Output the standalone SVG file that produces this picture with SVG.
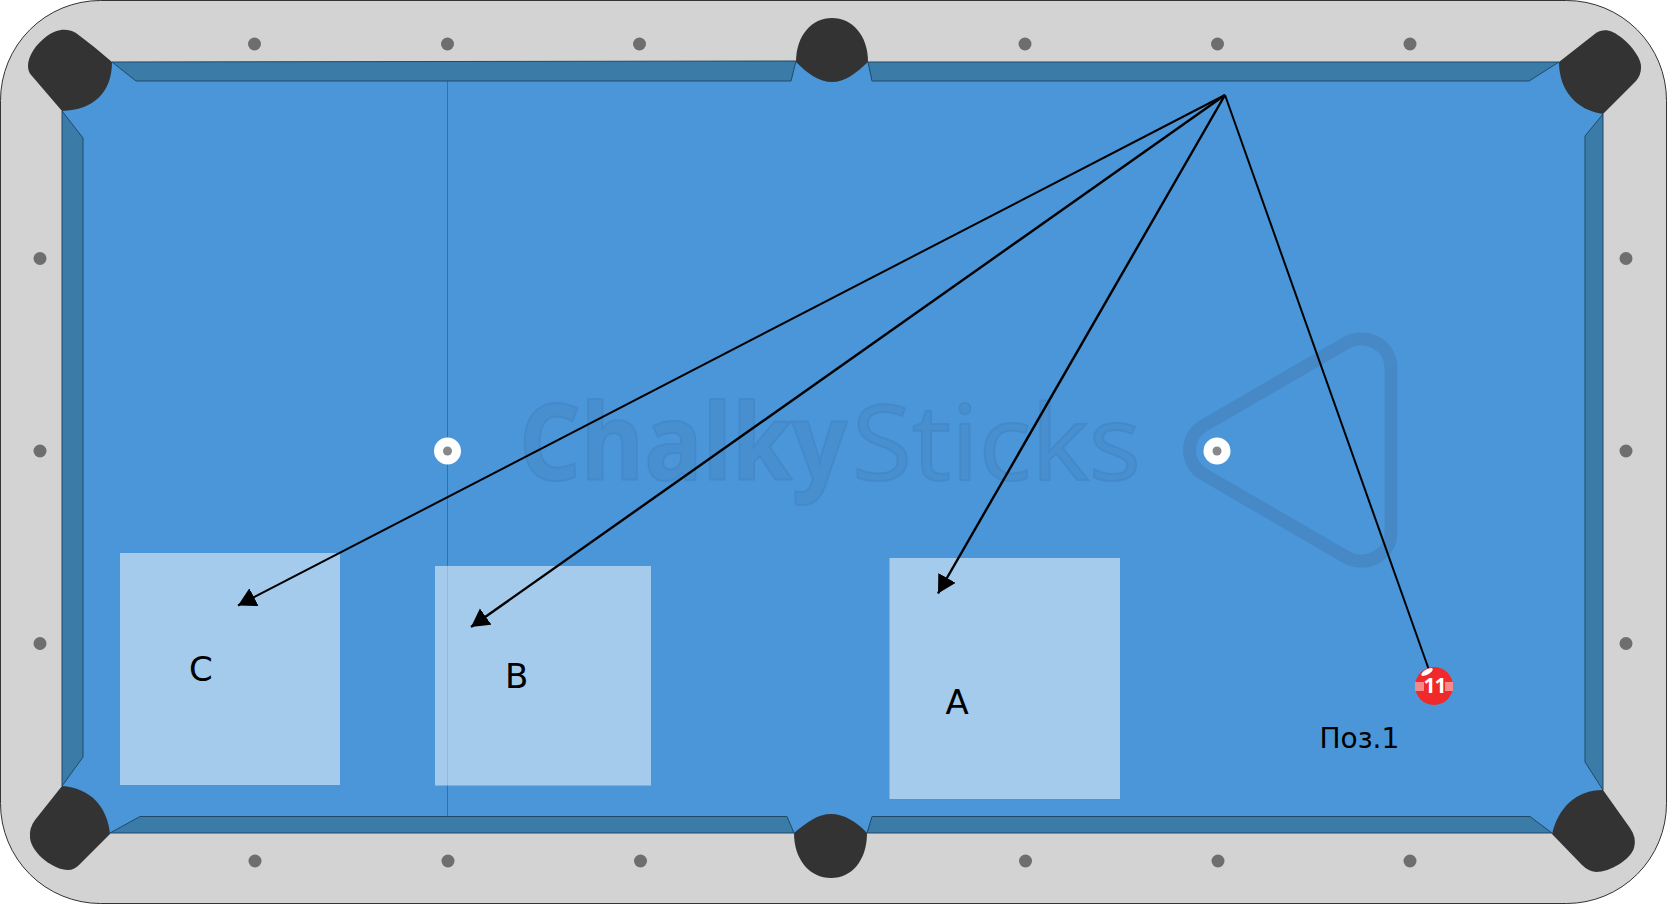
<svg xmlns="http://www.w3.org/2000/svg" width="1676" height="906" viewBox="0 0 1676 906">
<style>
.cushion{fill:#3a7ba8;stroke:#1f4a68;stroke-width:1}
.pocket{fill:#333}
.diamond{fill:#6e6e6e}
.zone{fill:#fff;fill-opacity:.5}
.lbl{font-family:"DejaVu Sans",sans-serif;fill:#000}
.wm{font-family:"Open Sans",sans-serif;font-size:105px;fill:#478fcf;stroke:#448aca;stroke-width:2}
.conn{stroke:#000;stroke-width:2;fill:none}
.thick{stroke-width:2.400}
</style>
<defs>
<marker id="arrow" markerUnits="userSpaceOnUse" markerWidth="20" markerHeight="21" refX="18" refY="10" orient="auto"><path d="M0 0L18 10L0 20Z" fill="#000"/></marker>
</defs>
<rect id="table" x="0.500" y="0.500" width="1666" height="903" rx="100" ry="100" fill="#d3d3d3" stroke="#333" stroke-width="1"/>
<rect id="felt" x="62" y="62" width="1541" height="771" fill="#4a96d8"/>
<g id="watermark">
<text class="wm" x="519" y="480" font-weight="700" textLength="328" lengthAdjust="spacingAndGlyphs">Chalky</text>
<text class="wm" x="852" y="480" textLength="289" lengthAdjust="spacingAndGlyphs">Sticks</text>
<path d="M1391 368V532C1391 556 1365 568 1346 557L1203 474C1185 463 1185 437 1203 426L1346 343C1365 332 1391 344 1391 368Z" fill="none" stroke="#4689c6" stroke-width="13"/>
</g>
<line id="head-string" x1="447.500" y1="81" x2="447.500" y2="816" stroke="#2c5f8a" stroke-opacity=".7" stroke-width="1"/>
<g id="cushions">
<path class="cushion" d="M112 62L136 81H791L796 61Z"/>
<path class="cushion" d="M868 62L872 81H1529L1559 62Z"/>
<path class="cushion" d="M62 111L83 138V757L62 786Z"/>
<path class="cushion" d="M1603 114L1585 136V762L1603 790Z"/>
<path class="cushion" d="M110 833L140 816.500H787L794 833Z"/>
<path class="cushion" d="M867 833L872 816.500H1530L1552 833Z"/>
</g>
<g id="pockets">
<path class="pocket" d="M112 62Q95 47 76 33C66 27 55 30 47 36C36 44 28 56 28 66Q28 72 32 76L62 111C94 110 112 92 112 62Z"/>
<path class="pocket" d="M796 62C796 35 812 18 832 18C852 18 868 35 868 62C855 74 845 82 832 82C819 82 808 74 796 62Z"/>
<path class="pocket" d="M1559 62L1596 33C1604 28 1612 30 1622 38C1633 47 1642 60 1641 68Q1641 75 1636 81L1603 114C1576 110 1559 90 1559 62Z"/>
<path class="pocket" d="M62 786L35 820Q29 828 30 838C32 854 54 870 68 870Q74 870 79 865L110 834C107 806 90 788 62 786Z"/>
<path class="pocket" d="M794 833C807 822 818 814 831 814C844 814 857 822 867 833C867 860 852 878 831 878C810 878 794 860 794 833Z"/>
<path class="pocket" d="M1603 790L1630 828Q1637 838 1634 848C1630 860 1610 872 1596 872Q1588 871 1582 865L1552 834C1558 808 1576 790 1603 790Z"/>
</g>
<g id="diamonds">
<circle class="diamond" cx="254.500" cy="44" r="6.500"/><circle class="diamond" cx="447.500" cy="44" r="6.500"/><circle class="diamond" cx="639.500" cy="44" r="6.500"/><circle class="diamond" cx="1025" cy="44" r="6.500"/><circle class="diamond" cx="1217.500" cy="44" r="6.500"/><circle class="diamond" cx="1410" cy="44" r="6.500"/>
<circle class="diamond" cx="255" cy="861" r="6.500"/><circle class="diamond" cx="448" cy="861" r="6.500"/><circle class="diamond" cx="640.500" cy="861" r="6.500"/><circle class="diamond" cx="1025.500" cy="861" r="6.500"/><circle class="diamond" cx="1218" cy="861" r="6.500"/><circle class="diamond" cx="1410" cy="861" r="6.500"/>
<circle class="diamond" cx="40" cy="258.500" r="6.500"/><circle class="diamond" cx="40" cy="451" r="6.500"/><circle class="diamond" cx="40" cy="643.500" r="6.500"/>
<circle class="diamond" cx="1626" cy="258.500" r="6.500"/><circle class="diamond" cx="1626" cy="451" r="6.500"/><circle class="diamond" cx="1626" cy="643.500" r="6.500"/>
</g>
<g id="spots">
<circle cx="447.500" cy="451" r="13.500" fill="#fff"/><circle cx="447.500" cy="451" r="4.500" fill="#888"/>
<circle cx="1217" cy="451" r="13.500" fill="#fff"/><circle cx="1217" cy="451" r="4.500" fill="#888"/>
</g>
<g id="zone-c"><rect class="zone" x="120" y="553" width="220" height="232"/><text class="lbl" x="189" y="681" font-size="34">C</text></g>
<g id="zone-b"><rect class="zone" x="435" y="566" width="216" height="219.500"/><text class="lbl" x="505" y="687.500" font-size="34">B</text></g>
<g id="zone-a"><rect class="zone" x="889.500" y="558" width="230.500" height="241"/><text class="lbl" x="945.500" y="714" font-size="34">A</text></g>
<g id="connectors">
<line class="conn" x1="1225" y1="95" x2="238" y2="605.500" marker-end="url(#arrow)"/>
<line class="conn thick" x1="1225" y1="95" x2="471" y2="627" marker-end="url(#arrow)"/>
<line class="conn thick" x1="1225" y1="95" x2="938" y2="593.500" marker-end="url(#arrow)"/>
<line class="conn" x1="1225" y1="95" x2="1429" y2="670"/>
</g>
<g id="ball-11">
<circle cx="1434" cy="686" r="19" fill="#f02a2a"/>
<rect x="1415" y="682" width="9" height="9" fill="#f58a8a"/><rect x="1445" y="682" width="8" height="9" fill="#f58a8a"/>
<ellipse cx="1427" cy="672" rx="6.500" ry="2.500" fill="#fff" transform="rotate(-30 1427 672)"/>
<text x="1434.500" y="693" text-anchor="middle" font-family="'Open Sans',sans-serif" font-weight="700" font-size="21" letter-spacing="-1" fill="#fff">11</text>
</g>
<text id="pos-label" class="lbl" x="1319.500" y="748" font-size="28">Поз.1</text>
</svg>
